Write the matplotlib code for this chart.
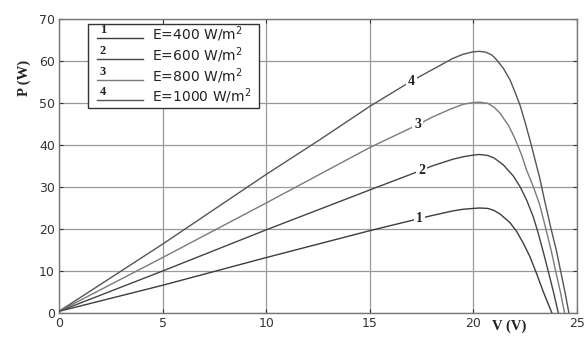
import matplotlib.pyplot as plt
from matplotlib.patches import Rectangle

# P-V curves of the PV module for four irradiance levels
v_400 = [0, 5, 10, 15, 17.4, 18, 19, 19.5, 20, 20.3, 20.7, 21.0, 21.28, 21.77,
         22.09, 22.41, 22.73, 23.05, 23.37, 23.7, 23.79]
p_400 = [0.4, 6.6, 13.2, 19.6, 22.5, 23.2, 24.3, 24.7, 24.9, 25.0, 24.9, 24.4, 23.6, 21.5,
         19.4, 16.6, 13.4, 9.4, 5.1, 1.1, 0]

v_600 = [0, 5, 10, 15, 17.5, 18, 19, 19.5, 20, 20.3, 20.7, 21.0, 21.44, 21.93,
         22.25, 22.57, 22.89, 23.13, 23.37, 23.62, 23.86, 24.1]
p_600 = [0.4, 10.0, 19.8, 29.3, 34.0, 35.0, 36.6, 37.2, 37.6, 37.75, 37.5, 36.9, 35.3, 32.6,
         30.1, 26.9, 22.9, 19.0, 14.6, 9.8, 5.1, 0]

v_800 = [0, 5, 10, 15, 17.3, 18, 18.87, 19.5, 20, 20.3, 20.7, 21.0, 21.28, 21.69,
         22.0, 22.33, 22.57, 22.9, 23.2, 23.5, 23.75, 23.97, 24.2, 24.4]
p_800 = [0.4, 13.2, 26.2, 39.4, 44.8, 46.6, 48.5, 49.7, 50.1, 50.2, 49.9, 49.0, 47.6, 44.7,
         41.6, 37.6, 34.0, 30.0, 25.8, 20.0, 15.0, 10.0, 5.0, 0]

v_1000 = [0, 5, 10, 12.6, 15, 17.0, 18, 19, 19.5, 20, 20.3, 20.6, 20.9, 21.12, 21.44, 21.77,
          22.0, 22.25, 22.49, 22.73, 22.97, 23.2, 23.45, 23.75, 24.0, 24.21, 24.42, 24.61]
p_1000 = [0.4, 16.4, 33.0, 41.3, 49.2, 55.2, 57.9, 60.6, 61.6, 62.2, 62.3, 62.1, 61.4, 60.3,
          58.3, 55.5, 52.7, 49.5, 45.5, 41.2, 36.6, 32.2, 26.5, 20.0, 15.0, 10.0, 5.0, 0]

curve_tags = ["1", "2", "3", "4"]
legend_text = ["E=400 W/m$^2$", "E=600 W/m$^2$", "E=800 W/m$^2$", "E=1000 W/m$^2$"]
tag_v = [17.4, 17.5, 17.3, 17.0]
tag_p = [22.5, 34.0, 44.8, 55.2]

colors = ["#3c3c3c", "#444444", "#7a7a7a", "#555555"]
serif = ["Liberation Serif", "DejaVu Serif"]

fig = plt.figure(figsize=(5.86, 3.37), dpi=100)
ax = fig.add_axes([0.1007, 0.0712, 0.8839, 0.8724])

curves = [(v_400, p_400), (v_600, p_600), (v_800, p_800), (v_1000, p_1000)]
for (v, p), c in zip(curves, colors):
    ax.plot(v, p, color=c, linewidth=1.0, zorder=3)

for t, x, y in zip(curve_tags, tag_v, tag_p):
    ax.text(x, y, t, ha="center", va="center", fontsize=10, fontweight="bold",
            family=serif, color="#222222", zorder=4,
            bbox=dict(boxstyle="square,pad=0.15", fc="white", ec="none"))

ax.set_xlim(0, 25)
ax.set_ylim(0, 70)
ax.set_xticks(range(0, 26, 5))
ax.set_yticks(range(0, 71, 10))
ax.grid(True, color="#9a9a9a", linewidth=0.9)
ax.set_axisbelow(True)
ax.tick_params(direction="in", length=3, top=True, right=True, labelsize=9,
               colors="#333333", pad=3)
for s in ax.spines.values():
    s.set_color("#777777")
    s.set_linewidth(1.0)

ax.text(0.87, -0.045, "V (V)", transform=ax.transAxes, ha="center", va="center",
        fontsize=10.5, fontweight="bold", family=serif, color="#222222")
fig.text(24 / 586, 1 - 78 / 337, "P (W)", rotation=90, ha="center", va="center",
         fontsize=10.5, fontweight="bold", family=serif, color="#222222")

# legend drawn by hand: numbered sample lines above each entry
ax.add_patch(Rectangle((0.056, 0.697), 0.33, 0.286, transform=ax.transAxes,
                       fc="white", ec="#333333", lw=1.0, zorder=5))
line_y = [0.935, 0.864, 0.793, 0.724]
for t, lab, y, c in zip(curve_tags, legend_text, line_y, colors):
    ax.plot([0.073, 0.162], [y, y], transform=ax.transAxes, color=c, lw=1.0, zorder=6)
    ax.text(0.085, y + 0.006, t, transform=ax.transAxes, ha="center", va="bottom",
            fontsize=9, fontweight="bold", family=serif, color="#222222", zorder=6)
    ax.text(0.18, y + 0.012, lab, transform=ax.transAxes, ha="left", va="center",
            fontsize=10, color="#222222", zorder=6)

fig.savefig("out.png", dpi=100)
